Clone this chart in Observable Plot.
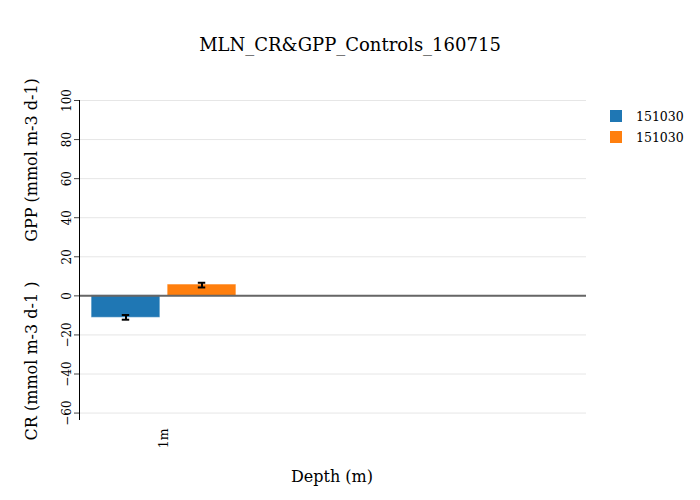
<!DOCTYPE html>
<html>
<head>
<meta charset="utf-8">
<script src="https://cdn.jsdelivr.net/npm/d3@7"></script>
<script src="https://cdn.jsdelivr.net/npm/@observablehq/plot@0.6"></script>
<style>
  html, body { margin: 0; padding: 0; background: #fff; }
  #wrap { position: relative; width: 700px; height: 500px; font-family: "DejaVu Serif", serif; color: #000; }
  #wrap svg { position: absolute; left: 0; top: 0; }
  .ov { position: absolute; white-space: nowrap; }
  .vlab { position: absolute; white-space: nowrap; transform: translate(-50%, -50%) rotate(-90deg); font-size: 16px; }
  .sw { position: absolute; width: 12px; height: 12px; }
  .lt { position: absolute; font-size: 12.5px; line-height: 13px; }
</style>
</head>
<body>
<div id="wrap"></div>
<script>
// ---- data ----
const depths = ["1m"];
const series = ["151030", "151030"];
const colors = ["#1f77b4", "#ff7f0e"];
const values = [[-11.0], [5.5]];   // per series, per depth
const errors = [[1.2], [1.2]];
const yTicks = [-60, -40, -20, 0, 20, 40, 60, 80, 100];
const yDomain = [-63.8, 100];
const xDomain = [-0.5, 2.5];
const titleText = "MLN_CR&GPP_Controls_160715";
const gppLabel = "GPP (mmol m-3 d-1)";
const crLabel = "CR (mmol m-3 d-1 )";
const xLabel = "Depth (m)";

// ---- layout of grouped bars (fraction of a category slot) ----
const groupWidth = 0.85, barGap = 0.05;
const barWidth = (groupWidth - barGap * (series.length - 1)) / series.length;
const capHalf = 0.022;

const rows = [];
series.forEach((s, si) => {
  depths.forEach((d, di) => {
    const x1 = di - groupWidth / 2 + si * (barWidth + barGap);
    rows.push({series: s, si, depth: d, di, value: values[si][di], err: errors[si][di],
               x1, x2: x1 + barWidth, cx: x1 + barWidth / 2, color: colors[si]});
  });
});

const font = "DejaVu Serif, serif";
const chart = Plot.plot({
  width: 700,
  height: 500,
  marginLeft: 79,
  marginRight: 114,
  marginTop: 100,
  marginBottom: 80,
  style: {fontFamily: font, fontSize: "12px", background: "transparent"},
  x: {domain: xDomain, axis: null, label: null},
  y: {domain: yDomain, axis: null, label: null},
  marks: [
    Plot.gridY(yTicks, {stroke: "#e6e6e6", strokeOpacity: 1}),
    Plot.rectY(rows, {x1: "x1", x2: "x2", y1: 0, y2: "value", fill: "color", stroke: "color", strokeOpacity: 0.6}),
    Plot.ruleY([0], {stroke: "#666", strokeWidth: 2}),
    Plot.ruleX(rows, {x: "cx", y1: d => d.value - d.err, y2: d => d.value + d.err, stroke: "#000", strokeWidth: 2}),
    Plot.ruleY(rows, {y: d => d.value - d.err, x1: d => d.cx - capHalf, x2: d => d.cx + capHalf, stroke: "#000", strokeWidth: 2}),
    Plot.ruleY(rows, {y: d => d.value + d.err, x1: d => d.cx - capHalf, x2: d => d.cx + capHalf, stroke: "#000", strokeWidth: 2}),
    Plot.ruleX([xDomain[0]], {stroke: "#000", strokeWidth: 1}),
    Plot.axisY(yTicks, {anchor: "left", label: null, tickSize: 5, tickPadding: 4, tickRotate: -90, stroke: "#444", fontSize: 12, fontFamily: font}),
    Plot.axisX(depths.map((d, i) => i), {anchor: "bottom", label: null, tickSize: 0, tickPadding: 8, tickRotate: -90, tickFormat: i => depths[i], fontSize: 12.5, fontFamily: font})
  ]
});

const wrap = document.getElementById("wrap");
wrap.appendChild(chart);

function add(html, cls, style) {
  const el = document.createElement("div");
  el.className = cls;
  el.textContent = html;
  Object.assign(el.style, style);
  wrap.appendChild(el);
  return el;
}
add(titleText, "ov", {left: "350px", top: "44px", transform: "translate(-50%,-50%)", fontSize: "18px"});
add(gppLabel, "vlab", {left: "31px", top: "160px"});
add(crLabel, "vlab", {left: "31px", top: "361px"});
add(xLabel, "ov", {left: "332px", top: "476px", transform: "translate(-50%,-50%)", fontSize: "16px"});

series.forEach((s, i) => {
  const y = 110 + i * 21;
  const sw = document.createElement("div");
  sw.className = "sw";
  Object.assign(sw.style, {left: "610px", top: y + "px", background: colors[i]});
  wrap.appendChild(sw);
  add(s, "lt", {left: "636px", top: (y - 0.5) + "px"});
});
</script>
</body>
</html>
